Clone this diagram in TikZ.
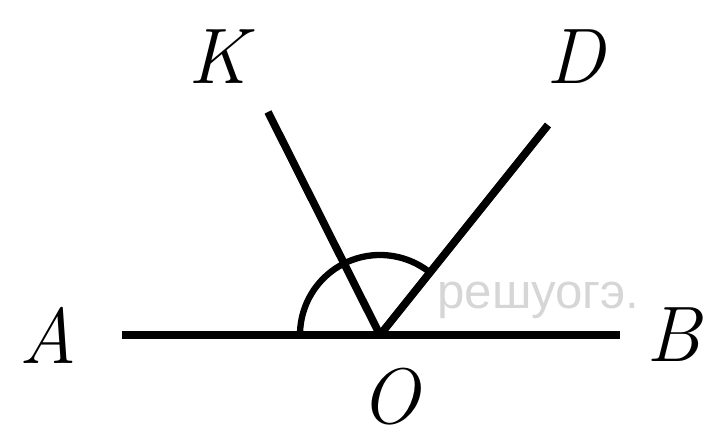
\documentclass[tikz,border=0pt]{standalone}
\usepackage{fontspec}
\newfontfamily\wmfont{Liberation Sans}
\usetikzlibrary{calc,positioning}
\tikzset{
  ray/.style={
    line width=5.5pt,
    line cap=butt,
  },
  anglemark/.style={
    line width=4.5pt,
  },
  ptlabel/.style={
    font=\fontsize{56}{56}\selectfont\itshape,
    inner sep=0pt
  },
  watermark/.style={
    font=\wmfont\fontsize{35}{35}\selectfont,
    text=black!16,
    anchor=west,
    inner sep=0pt
  }
}

\begin{document}
\begin{tikzpicture}[x=0.025cm,y=0.025cm]
    \useasboundingbox (-380,-104) rectangle (329,335);
    \coordinate (O) at (0,0);
    \coordinate (a) at (-258,0);
    \coordinate (b) at (240,0);
    \coordinate (k) at (-112,223);
    \coordinate (d) at (168,210);
    \node[watermark] (w) at (57,35) {решуогэ.};
    \draw[anglemark] ($(O)+(-80,0)$) arc[start angle=180,end angle=51,radius=80];
    \draw[ray] (a) -- (b);
    \draw[ray] (O) -- (k);
    \draw[ray] (O) -- (d);
    \node[ptlabel] (A) at (-332,0) {A};
    \node[ptlabel] (B) at (294,0) {B};
    \node[ptlabel] (K) at (-162,278) {K};
    \node[ptlabel] (D) at (196,278) {D};
    \node[ptlabel] (Olab) at (10,-62) {O};
\end{tikzpicture}
\end{document}
